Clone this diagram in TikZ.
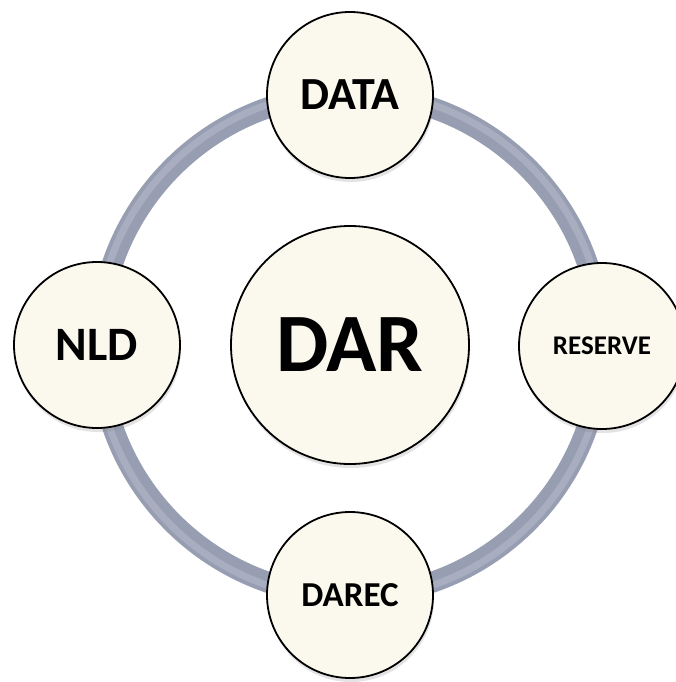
\documentclass[tikz,border=0pt]{standalone}
\usepackage{fontspec}
\setmainfont{Carlito}
\usetikzlibrary{shadows}
\definecolor{cream}{RGB}{251,249,238}
\definecolor{ringgray}{RGB}{152,158,178}
\definecolor{ringlight}{RGB}{198,203,218}

\tikzset{
  bubble/.style={circle, draw=black, line width=1.8pt, fill=cream, inner sep=0pt,
    minimum size=166pt, font=\bfseries,
    drop shadow={opacity=0.22, shadow xshift=1pt, shadow yshift=-4pt}},
}

\begin{document}
\begin{tikzpicture}[x=1pt,y=-1pt]
        \def\ringr{251}
        \useasboundingbox (0,0) rectangle (676,682);
        \clip (0,0) rectangle (676,682);
        \coordinate (hub) at (350,345);

        % Ring behind the bubbles
        \draw[ringgray, line width=21pt] (hub) circle (\ringr);
        \draw[ringlight, line width=7pt, opacity=.35] (hub) circle (254);

        % Centre bubble
        \node[bubble, minimum size=238pt] (dar) at (hub) {\fontsize{83}{83}\selectfont DAR};

        % Bubbles on the ring
        \node[bubble] (data) at (350,95) {\fontsize{46}{46}\selectfont DATA};
        \node[bubble] (nld) at (97,345) {\fontsize{48}{48}\selectfont NLD};
        \node[bubble] (reserve) at (602,346) {\fontsize{27}{27}\selectfont RESERVE};
        \node[bubble] (darec) at (350,595) {\fontsize{35}{35}\selectfont DAREC};
    \end{tikzpicture}
\end{document}
